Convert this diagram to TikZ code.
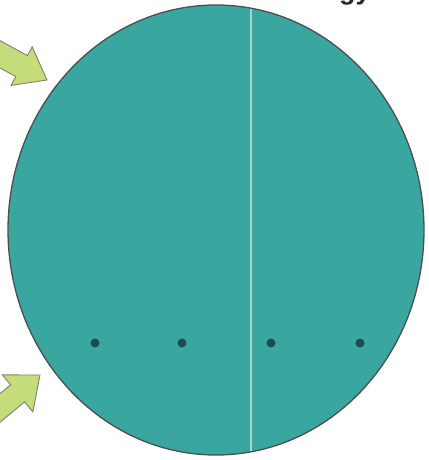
\documentclass[tikz,border=0pt]{standalone}
\usepackage{fontspec}
\setmainfont{Liberation Sans}
\definecolor{tealfill}{HTML}{3AA6A0}
\definecolor{rimgray}{HTML}{4A4F50}
\definecolor{seamcol}{HTML}{A6D2CD}
\definecolor{dotcol}{HTML}{1F4C52}
\definecolor{arrowfill}{HTML}{C4DD7A}
\definecolor{arrowrim}{HTML}{7C8070}
\definecolor{textcol}{HTML}{262A33}
\tikzset{
  bigarrow/.style={fill=arrowfill, draw=arrowrim, line width=0.9pt, line join=miter},
  dotmark/.style={circle, fill=dotcol, inner sep=0pt, minimum size=9pt},
}
\begin{document}
\begin{tikzpicture}[x=1pt,y=-1pt]
\useasboundingbox (0,0) rectangle (428,460);
\clip (0,0) rectangle (428,460);
\fill[white] (0,0) rectangle (428,460);
% heading fragment
\node[anchor=base west, inner sep=0pt, text=textcol, font=\bfseries\fontsize{27}{30}\selectfont] (head) at (339,0) {gy};
% big disc
\fill[tealfill] (216,230) ellipse [x radius=208, y radius=225];
\begin{scope}
  \clip (216,230) ellipse [x radius=208, y radius=225];
  \draw[seamcol, line width=1.4pt] (251,0) -- (251,460);
\end{scope}
\draw[rimgray, line width=1.3pt] (216,230) ellipse [x radius=208, y radius=225];
% dots
\node[dotmark] (d1) at (95,343) {};
\node[dotmark] (d2) at (182,343) {};
\node[dotmark] (d3) at (271,343) {};
\node[dotmark] (d4) at (360,343) {};
% arrows
\draw[bigarrow] (-36.8,47.8) -- (15.8,76.6) -- (11,85.4) -- (47,80) -- (32.2,46.8) -- (27.4,55.6) -- (-25.3,26.8) -- cycle;
\draw[bigarrow] (-35.7,423) -- (10.6,384.9) -- (2.4,374.9) -- (40,375) -- (32.8,411.9) -- (24.6,401.9) -- (-21.7,440) -- cycle;
\end{tikzpicture}
\end{document}
